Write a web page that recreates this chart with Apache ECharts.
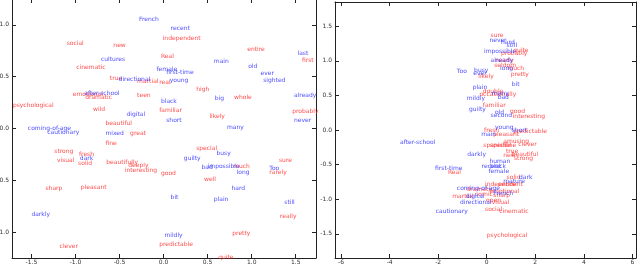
<!DOCTYPE html>
<html><head><meta charset="utf-8">
<script src="https://cdn.jsdelivr.net/npm/echarts@6/dist/echarts.min.js"></script>
<style>html,body{margin:0;padding:0;background:#fff}#c{width:640px;height:264px}</style>
</head><body><div id="c"></div>
<script>
// ---- data: [x, y, word] (left-middle of each word) ----
const leftRed = [
  [-1.10,0.82,'social'],[-0.57,0.80,'new'],[-0.99,0.59,'cinematic'],[-0.61,0.48,'true'],
  [-0.30,0.45,'martial'],[-1.03,0.33,'emotional'],[-0.89,0.30,'dramatic'],[-0.30,0.32,'teen'],
  [-1.71,0.22,'psychological'],[-0.80,0.18,'wild'],[-0.66,0.05,'beautiful'],[-0.01,0.87,'independent'],
  [0.95,0.76,'entire'],[1.57,0.66,'first'],[-0.03,0.70,'Real'],[-0.05,0.44,'real'],
  [0.37,0.38,'high'],[0.80,0.30,'whole'],[-0.05,0.17,'familiar'],[0.52,0.12,'likely'],
  [1.46,0.16,'probably'],[-0.38,-0.05,'great'],[-0.66,-0.14,'fine'],[-1.24,-0.22,'strong'],
  [-0.96,-0.25,'fresh'],[-1.21,-0.31,'visual'],[-0.97,-0.34,'solid'],[-0.65,-0.33,'beautifully'],
  [-0.40,-0.36,'deeply'],[-0.44,-0.40,'interesting'],[-1.34,-0.58,'sharp'],[-0.94,-0.57,'pleasant'],
  [-1.18,-1.14,'clever'],[0.37,-0.19,'special'],[1.31,-0.31,'sure'],[0.79,-0.37,'much'],
  [1.20,-0.42,'rarely'],[-0.03,-0.43,'good'],[0.46,-0.49,'well'],[1.32,-0.85,'really'],
  [0.78,-1.01,'pretty'],[-0.05,-1.12,'predictable'],[0.62,-1.24,'quite']
];
const leftBlue = [
  [-0.28,1.05,'French'],[-0.71,0.67,'cultures'],[-0.51,0.47,'directional'],[-0.90,0.34,'after-school'],
  [-0.42,0.14,'digital'],[-1.54,0.00,'coming-of-age'],[-1.32,-0.04,'cautionary'],[0.08,0.97,'recent'],
  [1.52,0.72,'last'],[0.57,0.65,'main'],[0.96,0.60,'old'],[-0.08,0.57,'female'],
  [0.03,0.54,'first-time'],[1.10,0.53,'ever'],[0.07,0.46,'young'],[1.13,0.46,'sighted'],
  [0.58,0.29,'big'],[1.48,0.32,'already'],[-0.03,0.26,'black'],[0.03,0.08,'short'],
  [1.48,0.08,'never'],[0.72,0.01,'many'],[-0.66,-0.05,'mixed'],[-0.95,-0.29,'dark'],
  [-1.50,-0.83,'darkly'],[0.60,-0.24,'busy'],[0.23,-0.29,'guilty'],[0.43,-0.38,'bad'],
  [0.50,-0.37,'impossible'],[0.83,-0.42,'long'],[1.20,-0.39,'Too'],[0.77,-0.58,'hard'],
  [0.08,-0.67,'bit'],[0.57,-0.68,'plain'],[1.37,-0.71,'still'],[0.01,-1.03,'mildly']
];
const rightRed = [
  [0.16,1.36,'sure'],[1.09,1.15,'quite'],[0.59,1.11,'probably'],[0.34,1.01,'nearly'],
  [0.31,0.93,'seldom'],[0.85,0.89,'much'],[0.99,0.81,'pretty'],[-0.35,0.77,'likely'],
  [-0.16,0.56,'double'],[-0.30,0.51,'occasionally'],[-0.16,0.35,'familiar'],[0.96,0.27,'good'],
  [1.07,0.20,'interesting'],[-0.11,-0.01,'fresh'],[0.27,-0.06,'pleasant'],[1.09,-0.02,'predictable'],
  [-0.14,-0.22,'spanish'],[0.14,-0.23,'special'],[0.68,-0.17,'amusing'],[0.75,-0.22,'fine'],
  [1.30,-0.21,'clever'],[0.79,-0.31,'true'],[1.03,-0.35,'beautiful'],[0.68,-0.37,'new'],
  [1.12,-0.41,'strong'],[0.82,-0.68,'solid'],[0.48,-0.78,'entire'],[-0.07,-0.78,'independent'],
  [-0.83,-0.86,'dramatic'],[0.11,-0.89,'emotional'],[-0.48,-0.93,'comic'],[-1.42,-0.96,'martial'],
  [0.27,-0.94,'sharp'],[-0.03,-1.02,'open'],[0.21,-1.04,'visual'],[-0.07,-1.15,'social'],
  [0.52,-1.18,'cinematic'],[0.00,-1.52,'psychological'],[-1.60,-0.61,'Real']
];
const rightBlue = [
  [-1.23,0.85,'Too'],[-0.58,0.62,'plain'],[-0.82,0.45,'mildly'],[-0.73,0.29,'guilty'],
  [0.11,1.30,'never'],[0.59,1.26,'hard'],[0.82,1.22,'still'],[-0.11,1.14,'impossible'],
  [0.16,1.00,'already'],[0.55,0.89,'long'],[-0.52,0.86,'busy'],[-0.55,0.82,'ever'],
  [1.03,0.66,'bit'],[0.21,0.53,'many'],[0.45,0.47,'bad'],[0.34,0.26,'old'],
  [0.16,0.21,'second'],[0.34,0.04,'young'],[-0.23,-0.06,'main'],[1.03,-0.01,'short'],
  [-0.80,-0.35,'darkly'],[0.11,-0.46,'human'],[-0.21,-0.52,'recent'],[0.14,-0.53,'black'],
  [0.07,-0.60,'female'],[1.33,-0.68,'dark'],[0.68,-0.74,'mature'],[-1.23,-0.84,'coming-of-age'],
  [0.27,-0.92,'French'],[-0.86,-0.96,'digital'],[-1.10,-1.05,'directional'],[-2.10,-1.17,'cautionary'],
  [-3.57,-0.18,'after-school'],[-2.13,-0.56,'first-time']
];
const leftXTicks = [-1.5,-1.0,-0.5,0.0,0.5,1.0,1.5];
const leftYTicks = [-1.0,-0.5,0.0,0.5,1.0];
const rightXTicks = [-6,-4,-2,0,2,4,6];
const rightYTicks = [-1.5,-1.0,-0.5,0.0,0.5,1.0,1.5];

const chart = echarts.init(document.getElementById('c'), null, {renderer:'canvas'});
const lineCol = '#222';
function ax(gridIndex, min, max, ticks, pos, showLabel, digits, margin){
  return {
    type:'value', gridIndex, min, max, position:pos,
    axisLine:{show:true, onZero:false, lineStyle:{color:lineCol, width:1}},
    axisTick:{show:true, inside:true, length:4, lineStyle:{color:lineCol}, customValues:ticks},
    axisLabel:{show:showLabel, customValues:ticks, fontSize:6, color:'#333', fontFamily:'DejaVu Sans', margin:margin,
      formatter:v=>Number(v).toFixed(digits)},
    splitLine:{show:false}
  };
}
function ser(data, xi, yi, color){
  return {
    type:'scatter', xAxisIndex:xi, yAxisIndex:yi, data, symbolSize:0, silent:true, clip:false,
    label:{show:true, position:[0,0], align:'left', verticalAlign:'middle', formatter:p=>p.value[2],
      fontSize:6, fontFamily:'DejaVu Sans', color}
  };
}
const RED='#ff2020', BLUE='#2020ff';
chart.setOption({
  animation:false,
  grid:[
    {left:12, right:324, top:-1, bottom:6, containLabel:false, outerBoundsMode:'none'},
    {left:335, right:4, top:2, bottom:6, containLabel:false, outerBoundsMode:'none'}
  ],
  xAxis:[
    ax(0,-1.72,1.73,leftXTicks,'bottom',true,1,1),
    ax(0,-1.72,1.73,leftXTicks,'top',false,1,1),
    ax(1,-6.25,6.15,rightXTicks,'bottom',true,0,1),
    ax(1,-6.25,6.15,rightXTicks,'top',false,0,1)
  ],
  yAxis:[
    ax(0,-1.25,1.25,leftYTicks,'left',true,1,3),
    ax(0,-1.25,1.25,leftYTicks,'right',false,1,3),
    ax(1,-1.85,1.85,rightYTicks,'left',true,1,3),
    ax(1,-1.85,1.85,rightYTicks,'right',false,1,3)
  ],
  series:[
    ser(leftRed,0,0,RED), ser(leftBlue,0,0,BLUE),
    ser(rightRed,2,2,RED), ser(rightBlue,2,2,BLUE)
  ]
});
</script></body></html>
